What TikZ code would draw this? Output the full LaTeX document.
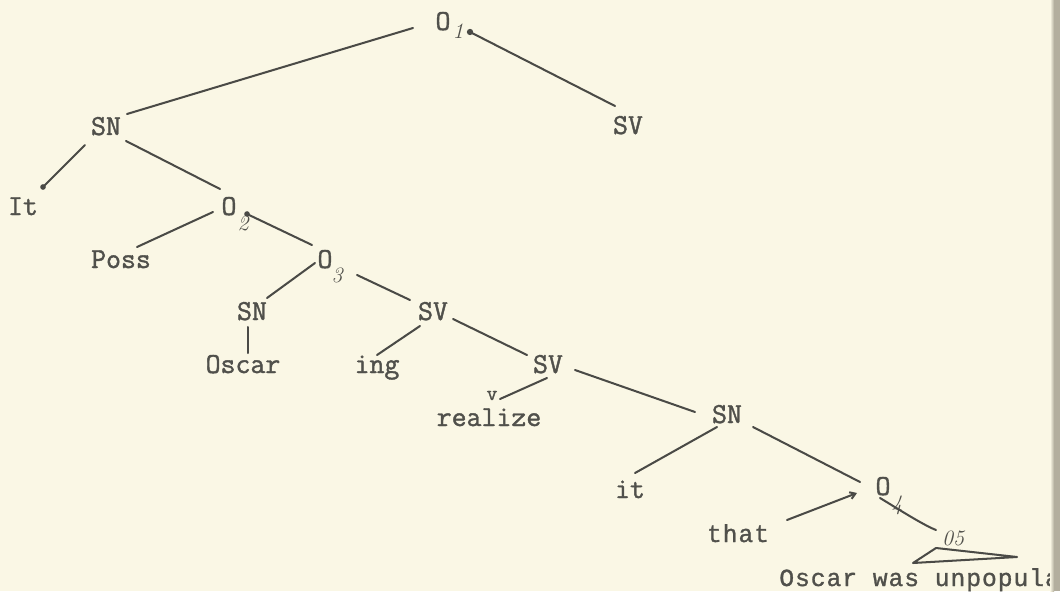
\documentclass[tikz,border=0pt]{standalone}
\usepackage{fontspec}
\setmonofont[FakeBold=1.4]{Latin Modern Mono}
\newfontfamily\typeB[LetterSpace=4,FakeBold=1.2]{Liberation Mono}
\usetikzlibrary{calc,arrows.meta}

\definecolor{paper}{HTML}{FAF7E5}
\definecolor{ink}{HTML}{4A4A46}
\definecolor{textink}{HTML}{50504B}
\definecolor{edge}{HTML}{B3AE9E}

\tikzset{
  lab/.style={anchor=base, inner sep=0pt, text=textink,
              font=\fontsize{16.5}{18}\selectfont\ttfamily},
  small/.style={anchor=base, inner sep=0pt, text=textink,
              font=\fontsize{12}{14}\selectfont\ttfamily},
  idx/.style={inner sep=0pt, text=textink,
              font=\fontsize{12.5}{12.5}\selectfont\itshape},
  lowtype/.style={anchor=base, inner sep=0pt, text=textink,
              font=\fontsize{14}{16}\selectfont\typeB},
  branch/.style={draw=ink, line width=1.15pt, line cap=round},
  blob/.style={fill=ink}
}

\begin{document}
\begin{tikzpicture}[x=0.02cm, y=-0.02cm]
  % sheet
  \clip (0,0) rectangle (1060,591);
  \fill[paper] (0,0) rectangle (1060,591);

  % labels
  \node[lab] (O1)    at (443,30)  {O};
  \node[idx] (i1)    at (458,31)  {1};
  \node[lab] (SN1)   at (106,135) {SN};
  \node[lab] (SV1)   at (628,134) {SV};
  \node[lab] (It)    at (23,215)  {It};
  \node[lab] (O2)    at (229,215) {O};
  \node[idx] (i2)    at (243,223) {2};
  \node[lab] (Poss)  at (121,268) {Poss};
  \node[lab] (O3)    at (325,268) {O};
  \node[idx] (i3)    at (337,275) {3};
  \node[lab] (SN2)   at (252,320) {SN};
  \node[lab] (SV2)   at (433,320) {SV};
  \node[lab] (Oscar) at (243,373) {Oscar};
  \node[lab] (ing)   at (377,373) {ing};
  \node[lab] (SV3)   at (548,373) {SV};
  \node[small] (v)   at (492,400) {v};
  \node[lab] (realize) at (489,426) {realize};
  \node[lab] (SN3)   at (727,423) {SN};
  \node[lab] (it)    at (630,498) {it};
  \node[lab] (O4)    at (883,495) {O};
  \node[idx] (i4)    at (897,505) {4};
  \node[lowtype] (that) at (738,542) {that};
  \node[idx, anchor=base] (O5) at (953,545) {05};
  \node[lowtype, anchor=base west] (clause) at (779,586) {Oscar was unpopula};

  % branches
  \draw[branch] ($(SN1.base)+(21,-21)$) -- ($(O1.base)+(-30,-2)$);
  \draw[branch] ($(O1.base)+(27,2)$) -- ($(SV1.base)+(-13,-28)$);
  \fill[blob] ($(O1.base)+(27,2)$) circle[radius=1.8pt];
  \draw[branch] ($(SN1.base)+(-21,10)$) -- ($(It.base)+(20,-28)$);
  \fill[blob] ($(It.base)+(20,-28)$) circle[radius=1.6pt];
  \draw[branch] ($(SN1.base)+(20,6)$) -- ($(O2.base)+(-9,-26)$);
  \draw[branch] ($(O2.base)+(-16,-3)$) -- ($(Poss.base)+(16,-21)$);
  \draw[branch] ($(O2.base)+(18,-1)$) -- ($(O3.base)+(-13,-23)$);
  \fill[blob] ($(O2.base)+(18,-1)$) circle[radius=1.6pt];
  \draw[branch] ($(O3.base)+(-10,-5)$) -- ($(SN2.base)+(15,-22)$);
  \draw[branch] ($(SN2.base)+(-4,7)$) -- ($(Oscar.base)+(5,-20)$);
  \draw[branch] ($(O3.base)+(32,7)$) -- ($(SV2.base)+(-23,-20)$);
  \draw[branch] ($(SV2.base)+(-13,6)$) -- ($(ing.base)+(0,-18)$);
  \draw[branch] ($(SV2.base)+(20,-1)$) -- ($(SV3.base)+(-21,-18)$);
  \draw[branch] ($(SV3.base)+(-1,5)$) -- ($(v.base)+(8,-1)$);
  \draw[branch] ($(SV3.base)+(27,-3)$) -- ($(SN3.base)+(-32,-11)$);
  \draw[branch] ($(SN3.base)+(-10,4)$) -- ($(it.base)+(5,-25)$);
  \draw[branch] ($(SN3.base)+(26,4)$) -- ($(O4.base)+(-23,-13)$);
  \draw[branch, -{Straight Barb[length=3pt,width=4pt]}]
       ($(that.base)+(49,-22)$) -- ($(O4.base)+(-26,-2)$);
  \draw[branch] ($(O4.base)+(-3,3)$) .. controls ($(O4.base)+(12,12)$)
       and ($(O5.base)+(-30,-20)$) .. ($(O5.base)+(-17,-15)$);
  \draw[branch, line join=round] ($(O5.base)+(-17,3)$) -- ($(O5.base)+(-40,18)$)
       -- ($(O5.base)+(64,12)$) -- cycle;

  % binding shadow along the right edge
  \shade[left color=paper, right color=edge] (1050,0) rectangle (1054,591);
  \fill[edge] (1054,0) rectangle (1060,591);
\end{tikzpicture}
\end{document}
